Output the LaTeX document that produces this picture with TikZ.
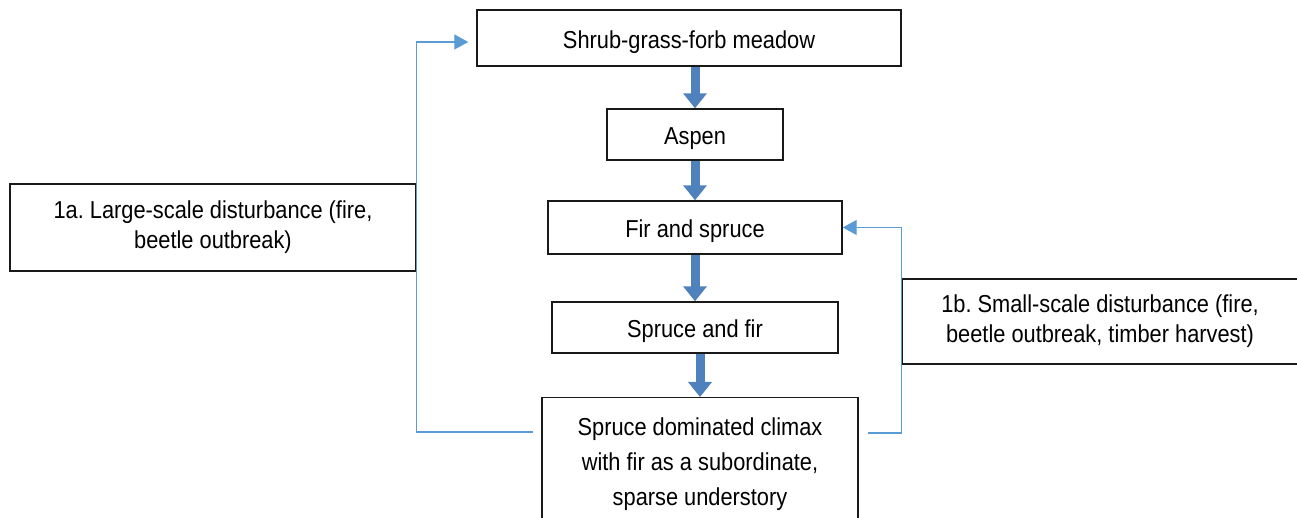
\documentclass[tikz,border=0pt]{standalone}
\usepackage{fontspec}
\setmainfont{Liberation Sans}[FakeStretch=0.89]
\usetikzlibrary{arrows.meta,calc}
\definecolor{linkblue}{HTML}{5B9BD5}
\definecolor{stepblue}{HTML}{4F81BD}
\frenchspacing
\begin{document}
\begin{tikzpicture}[x=1pt,y=1pt,
    stage/.style={draw=black!90,line width=1.4pt,inner sep=0pt,font=\fontsize{24.5}{30}\selectfont,text height=21pt,text depth=0pt},
    dist/.style={draw=black!90,line width=1.4pt,inner sep=0pt,align=center,font=\fontsize{24.5}{30}\selectfont},
    succ/.style={stepblue,line width=9pt,-{Triangle[length=15pt,width=23pt]}},
    loop/.style={linkblue,line width=1.2pt,-{Triangle[length=14pt,width=15pt]}}]
      \useasboundingbox (0,0) rectangle (1297,518);
      \clip (0,0) rectangle (1297,518);

      \node[stage,minimum width=424pt,minimum height=56pt](meadow) at(689,480){Shrub-grass-forb meadow};
      \node[stage,minimum width=176pt,minimum height=51pt](aspen) at(695,383.5){Aspen};
      \node[stage,minimum width=294pt,minimum height=53pt](fir) at(695,290.5){Fir and spruce};
      \node[stage,minimum width=286pt,minimum height=51pt](spruce) at(695,190.5){Spruce and fir};
      \node[dist,font=\fontsize{24.5}{35}\selectfont,minimum width=316pt,minimum height=132pt,anchor=north](climax) at(700,121){Spruce dominated climax\\with fir as a subordinate,\\sparse understory};

      \node[dist,minimum width=406pt,minimum height=87pt](large) at(213,290.5){1a. Large-scale disturbance (fire,\\beetle outbreak)};
      \node[dist,minimum width=396pt,minimum height=85pt](small) at(1100,196.5){1b. Small-scale disturbance (fire,\\beetle outbreak, timber harvest)};

      \draw[succ](aspen.north|-meadow.south)--(aspen.north);
      \draw[succ](aspen.south)--(fir.north);
      \draw[succ](fir.south)--(spruce.north);
      \draw[succ](climax.north|-spruce.south)--(climax.north);

      \coordinate(climaxL) at(533,86);
      \coordinate(climaxR) at(868,85);
      \coordinate(meadowIn) at([yshift=-4pt]meadow.west);
      \draw[loop,shorten >=8pt](climaxL)--(climaxL-|large.east)--(large.east|-meadowIn)--(meadowIn);
      \draw[loop](climaxR)--(climaxR-|small.west)--(small.west|-fir.east)--(fir.east);

    \end{tikzpicture}
\end{document}
